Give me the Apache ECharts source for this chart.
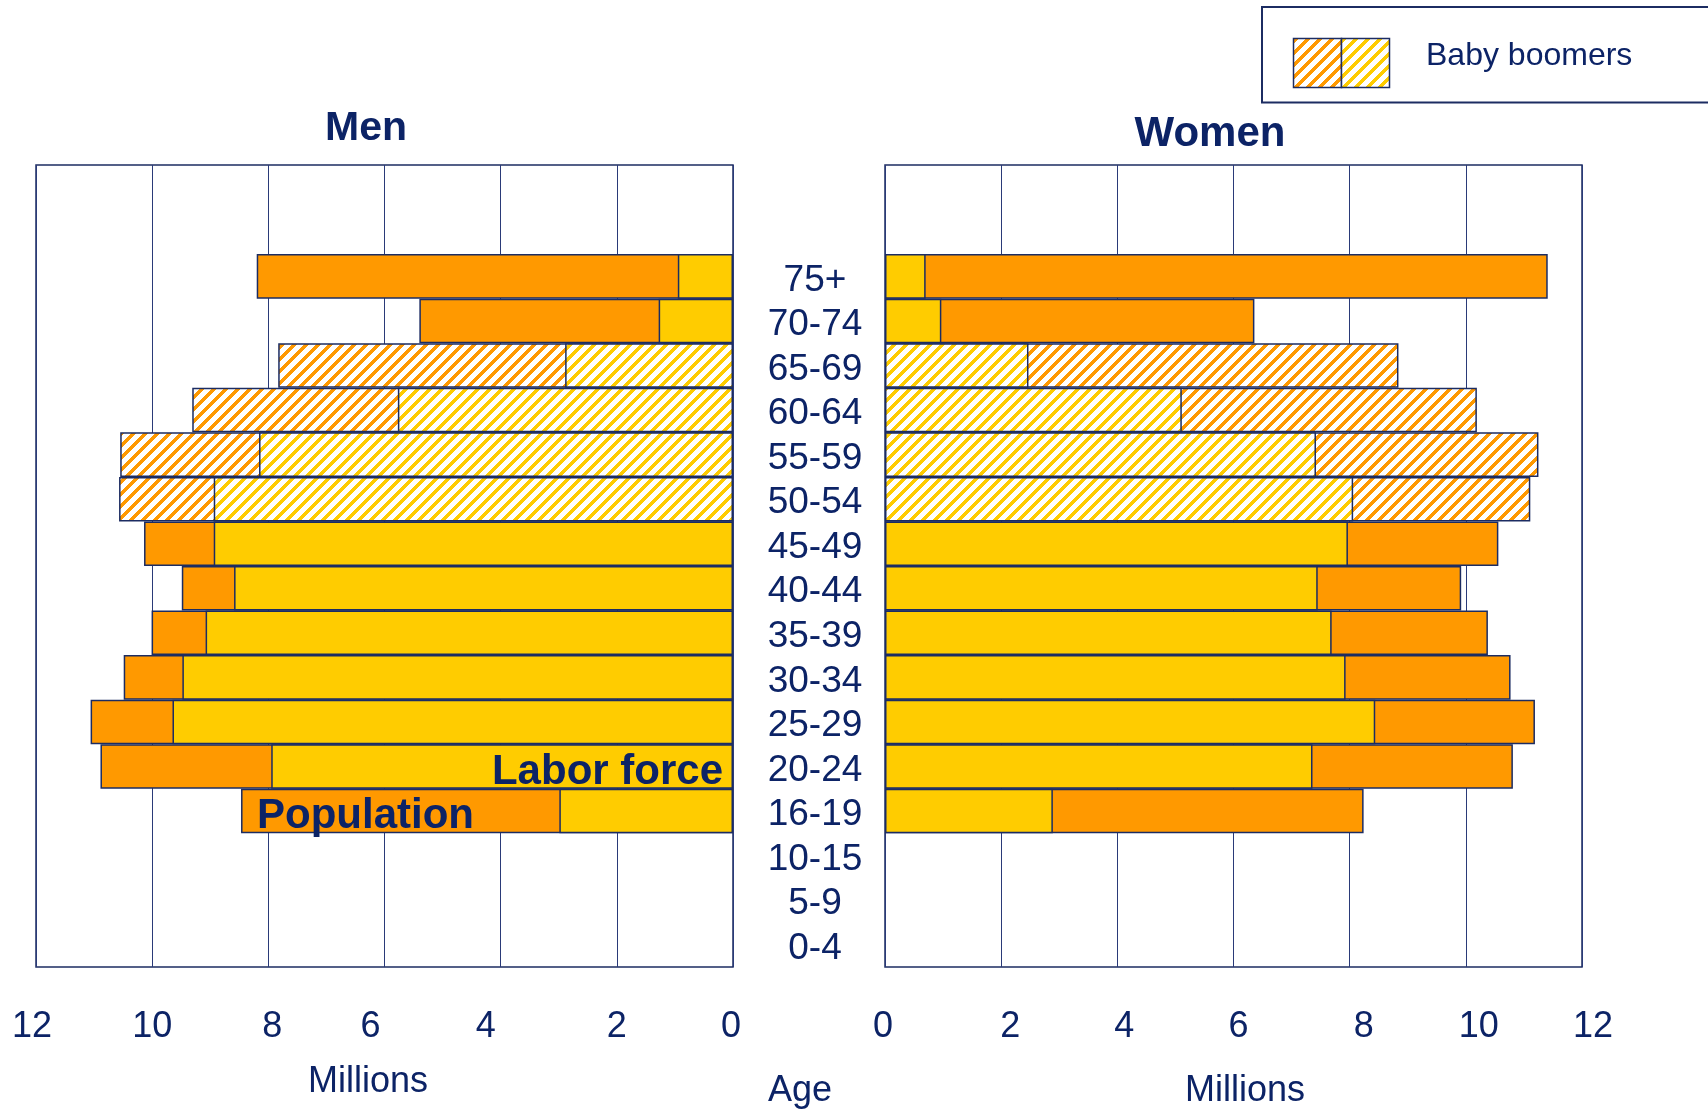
<!DOCTYPE html>
<html>
<head>
<meta charset="utf-8">
<script src="https://cdn.jsdelivr.net/npm/echarts@6/dist/echarts.min.js"></script>
<style>
html,body{margin:0;padding:0;background:#fff;}
#chart{width:1708px;height:1110px;}
</style>
</head>
<body>
<div id="chart"></div>
<script>
// ---- DATA (bottom to top) ----
const ageGroups = ['0-4','5-9','10-15','16-19','20-24','25-29','30-34','35-39','40-44','45-49','50-54','55-59','60-64','65-69','70-74','75+'];
const menPopulation   = [null,null,null,8.47,10.89,11.06,10.49,10.01,9.49,10.14,10.57,10.55,9.31,7.83,5.40,8.20];
const menLaborForce   = [null,null,null,2.99,7.95,9.65,9.48,9.08,8.59,8.94,8.94,8.16,5.77,2.89,1.28,0.95];
const womenPopulation = [null,null,null,8.24,10.81,11.19,10.77,10.38,9.92,10.56,11.11,11.25,10.19,8.84,6.36,11.41];
const womenLaborForce = [null,null,null,2.89,7.36,8.44,7.93,7.69,7.45,7.97,8.06,7.42,5.11,2.47,0.97,0.70];
const babyBoomerGroups = ['50-54','55-59','60-64','65-69'];
const xTicks = [0,2,4,6,8,10,12];
const panelTitles = ['Men','Women'];
const axisTitles = ['Millions','Age','Millions'];
const annotationTexts = ['Labor force','Population'];
const legendText = 'Baby boomers';

// ---- STYLE ----
const NAVY = '#0c2366';
const LINE = '#1c2c62';
const ORANGE = '#ff9900';
const YELLOW = '#ffcc00';
const FONT = '"Liberation Sans", Arial, sans-serif';

function hexToRgb(h){ return [parseInt(h.substr(1,2),16), parseInt(h.substr(3,2),16), parseInt(h.substr(5,2),16)]; }
function hatch(color){
  const p = 12, w = 5;
  const c = document.createElement('canvas');
  c.width = p; c.height = p;
  const ctx = c.getContext('2d');
  const img = ctx.createImageData(p, p);
  const rgb = hexToRgb(color);
  for (let y=0;y<p;y++){
    for (let x=0;x<p;x++){
      const on = ((x + y) % p) < w;
      const i = (y*p + x)*4;
      img.data[i]   = on ? rgb[0] : 255;
      img.data[i+1] = on ? rgb[1] : 255;
      img.data[i+2] = on ? rgb[2] : 255;
      img.data[i+3] = 255;
    }
  }
  ctx.putImageData(img, 0, 0);
  return {image: c, repeat: 'repeat'};
}
const hatchOrange = hatch(ORANGE);
const hatchYellow = hatch(YELLOW);

// categories padded with two empty bands at the top
const categories = ageGroups.concat(['', ' ']);
function build(values, solid, hatched){
  const out = values.map((v,i)=>{
    if (v === null) return null;
    const isBoomer = babyBoomerGroups.indexOf(ageGroups[i]) >= 0;
    return {value: v, itemStyle: {color: isBoomer ? hatched : solid}};
  });
  return out.concat([null,null]);
}

// slight label offsets as in the reference
const leftShift  = {12:-4,10:0,8:4,6:-14,4:-15,2:0,0:-2};
const rightShift = {0:-2,2:9,4:7,6:5,8:14,10:13,12:11};
function richFor(prefix, shifts){
  const r = {};
  xTicks.forEach(t=>{
    const d = shifts[t]||0;
    r[prefix+t] = {fontSize:36, color:NAVY, fontFamily:FONT,
      padding: d>=0 ? [0,0,0,2*d] : [0,-2*d,0,0]};
  });
  return r;
}

const gridTop = 165, gridH = 802, gridW = 697;
const barBorder = {borderColor: LINE, borderWidth: 1.5};

const xAxisCommon = {
  type:'value', min:0, max:12, interval:2,
  axisLine:{show:false}, axisTick:{show:false},
  splitLine:{show:true, lineStyle:{color:'#2a3a78', width:1}},
};

const option = {
  animation:false,
  backgroundColor:'#ffffff',
  grid:[
    {left:36, top:gridTop, width:gridW, height:gridH, show:true, borderColor:LINE, borderWidth:1.5, backgroundColor:'transparent'},
    {left:885, top:gridTop, width:gridW, height:gridH, show:true, borderColor:LINE, borderWidth:1.5, backgroundColor:'transparent'}
  ],
  xAxis:[
    Object.assign({}, xAxisCommon, {gridIndex:0, inverse:true,
      axisLabel:{margin:42, formatter:(v)=>'{m'+v+'|'+v+'}', rich:richFor('m', leftShift)}}),
    Object.assign({}, xAxisCommon, {gridIndex:1,
      axisLabel:{margin:42, formatter:(v)=>'{w'+v+'|'+v+'}', rich:richFor('w', rightShift)}})
  ],
  yAxis:[
    {type:'category', gridIndex:0, data:categories, axisLine:{show:false}, axisTick:{show:false},
      axisLabel:{show:false}, splitLine:{show:false}},
    {type:'category', gridIndex:1, data:categories, axisLine:{show:false}, axisTick:{show:false},
      axisLabel:{show:true, interval:0, align:'center', margin:70,
        formatter:(v)=> v.trim() === '' ? '' : '{age|' + v + '}',
        rich:{age:{fontSize:37, color:NAVY, fontFamily:FONT, padding:[8,0,0,0]}}},
      splitLine:{show:false}}
  ],
  series:[
    {name:'Men population', type:'bar', xAxisIndex:0, yAxisIndex:0, barGap:'-100%', barCategoryGap:'0%',
      itemStyle:barBorder, data: build(menPopulation, ORANGE, hatchOrange)},
    {name:'Men labor force', type:'bar', xAxisIndex:0, yAxisIndex:0, barGap:'-100%', barCategoryGap:'0%',
      itemStyle:barBorder, data: build(menLaborForce, YELLOW, hatchYellow)},
    {name:'Women population', type:'bar', xAxisIndex:1, yAxisIndex:1, barGap:'-100%', barCategoryGap:'0%',
      itemStyle:barBorder, data: build(womenPopulation, ORANGE, hatchOrange)},
    {name:'Women labor force', type:'bar', xAxisIndex:1, yAxisIndex:1, barGap:'-100%', barCategoryGap:'0%',
      itemStyle:barBorder, data: build(womenLaborForce, YELLOW, hatchYellow)}
  ],
  graphic:[
    {type:'text', x:366, y:129, z:100, style:{text:panelTitles[0], fill:NAVY, fontSize:41, fontWeight:'bold', fontFamily:FONT, align:'center', verticalAlign:'middle'}},
    {type:'text', x:1210, y:134, z:100, style:{text:panelTitles[1], fill:NAVY, fontSize:42, fontWeight:'bold', fontFamily:FONT, align:'center', verticalAlign:'middle'}},
    {type:'text', x:368, y:1082, z:100, style:{text:axisTitles[0], fill:NAVY, fontSize:36, fontFamily:FONT, align:'center', verticalAlign:'middle'}},
    {type:'text', x:800, y:1091, z:100, style:{text:axisTitles[1], fill:NAVY, fontSize:36, fontFamily:FONT, align:'center', verticalAlign:'middle'}},
    {type:'text', x:1245, y:1091, z:100, style:{text:axisTitles[2], fill:NAVY, fontSize:36, fontFamily:FONT, align:'center', verticalAlign:'middle'}},
    {type:'text', x:723, y:772, z:100, style:{text:annotationTexts[0], fill:NAVY, fontSize:42, fontWeight:'bold', fontFamily:FONT, align:'right', verticalAlign:'middle'}},
    {type:'text', x:257, y:816, z:100, style:{text:annotationTexts[1], fill:NAVY, fontSize:42, fontWeight:'bold', fontFamily:FONT, align:'left', verticalAlign:'middle'}},
    // legend box
    {type:'rect', z:100, shape:{x:1262, y:7, width:470, height:95.5}, style:{fill:'#ffffff', stroke:LINE, lineWidth:2}},
    {type:'rect', z:101, shape:{x:1293.5, y:38.5, width:48, height:49}, style:{fill:hatchOrange, stroke:LINE, lineWidth:1.5}},
    {type:'rect', z:101, shape:{x:1341.5, y:38.5, width:48, height:49}, style:{fill:hatchYellow, stroke:LINE, lineWidth:1.5}},
    {type:'text', x:1426, y:56, z:101, style:{text:legendText, fill:NAVY, fontSize:32, fontFamily:FONT, align:'left', verticalAlign:'middle'}}
  ]
};

const chart = echarts.init(document.getElementById('chart'), null, {renderer:'canvas', width:1708, height:1110});
chart.setOption(option);
</script>
</body>
</html>
